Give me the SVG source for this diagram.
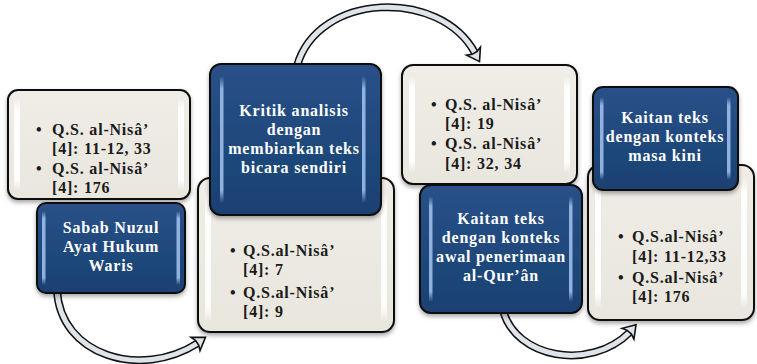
<svg xmlns="http://www.w3.org/2000/svg" width="757" height="364" viewBox="0 0 757 364">
  <defs>
    <style>
      .beige { fill: url(#beigeFill); stroke: #111; stroke-width: 2; }
      .blue { fill: url(#blueFill); stroke: #111; stroke-width: 2; }
      .hlBeige { fill: url(#beigeBar); }
      .hlBlue { fill: url(#blueBar); }
      .txt { font-family: "Liberation Serif", "Times New Roman", serif; font-weight: bold; font-size: 16px; letter-spacing: 0.8px; }
      .dark { fill: #1a1a1a; }
      .light { fill: #ffffff; text-anchor: middle; }
      .arrowOuter { fill: none; stroke: #111; stroke-width: 8; stroke-linecap: butt; }
      .arrowInner { fill: none; stroke: #dfe3ea; stroke-width: 5; stroke-linecap: butt; }
      .head { fill: #dfe3ea; stroke: #111; stroke-width: 1.6; stroke-linejoin: miter; }
    </style>
    <linearGradient id="beigeFill" x1="0" y1="0" x2="0" y2="1">
      <stop offset="0" stop-color="#efede6"/>
      <stop offset="1" stop-color="#e8e6dd"/>
    </linearGradient>
    <linearGradient id="blueFill" x1="0" y1="0" x2="0" y2="1">
      <stop offset="0" stop-color="#2a5189"/>
      <stop offset="0.5" stop-color="#20497d"/>
      <stop offset="1" stop-color="#1c4172"/>
    </linearGradient>
    <linearGradient id="beigeBar" x1="0" y1="0" x2="0" y2="1">
      <stop offset="0" stop-color="#ffffff" stop-opacity="0"/>
      <stop offset="0.12" stop-color="#ffffff" stop-opacity="0.95"/>
      <stop offset="0.88" stop-color="#ffffff" stop-opacity="0.95"/>
      <stop offset="1" stop-color="#ffffff" stop-opacity="0"/>
    </linearGradient>
    <linearGradient id="blueBar" x1="0" y1="0" x2="0" y2="1">
      <stop offset="0" stop-color="#9dbdea" stop-opacity="0"/>
      <stop offset="0.1" stop-color="#9dbdea" stop-opacity="0.9"/>
      <stop offset="0.9" stop-color="#9dbdea" stop-opacity="0.9"/>
      <stop offset="1" stop-color="#9dbdea" stop-opacity="0"/>
    </linearGradient>
    <filter id="shadow" x="-10%" y="-10%" width="120%" height="130%">
      <feDropShadow dx="0" dy="2.5" stdDeviation="2" flood-color="#000" flood-opacity="0.35"/>
    </filter>
    <path id="arrowHead" class="head" d="M3,0 L-9,-8 L-7,-2.8 L-7,2.8 L-9,8 Z"/>
  </defs>

  <!-- curved connectors -->
  <g id="connectors">
    <path class="arrowOuter" d="M57,290 C60,355 140,380 198,343"/>
    <path class="arrowInner" d="M57,290 C60,355 140,380 198,343"/>
    <use href="#arrowHead" transform="translate(203,339) rotate(-34)"/>

    <path class="arrowOuter" d="M297,66 C318,-8 440,-12 475,53"/>
    <path class="arrowInner" d="M297,66 C318,-8 440,-12 475,53"/>
    <use href="#arrowHead" transform="translate(478,59) rotate(60)"/>

    <path class="arrowOuter" d="M503,310 C515,358 590,372 630,332"/>
    <path class="arrowInner" d="M503,310 C515,358 590,372 630,332"/>
    <use href="#arrowHead" transform="translate(634,327) rotate(-48)"/>
  </g>

  <!-- step 1 -->
  <g id="refs1">
    <rect class="beige" x="8" y="90" width="182" height="109" rx="10" filter="url(#shadow)"/>
    <rect class="hlBeige" x="14" y="98" width="6" height="93" rx="3"/>
    <rect class="hlBeige" x="178" y="98" width="6" height="93" rx="3"/>
    <text class="txt dark" x="36" y="135">•</text>
    <text class="txt dark" x="52" y="135">Q.S. al-Nisâ’</text>
    <text class="txt dark" x="52" y="154">[4]: 11-12, 33</text>
    <text class="txt dark" x="36" y="174">•</text>
    <text class="txt dark" x="52" y="174">Q.S. al-Nisâ’</text>
    <text class="txt dark" x="52" y="193">[4]: 176</text>
  </g>
  <g id="sabab">
    <rect class="blue" x="37" y="203" width="148" height="90" rx="9" filter="url(#shadow)"/>
    <rect class="hlBlue" x="42" y="211" width="3.5" height="74" rx="1.5"/>
    <rect class="hlBlue" x="176.5" y="211" width="3.5" height="74" rx="1.5"/>
    <text class="txt light" x="111" y="233">Sabab Nuzul</text>
    <text class="txt light" x="111" y="252">Ayat Hukum</text>
    <text class="txt light" x="111" y="271">Waris</text>
  </g>

  <!-- step 2 -->
  <g id="refs2">
    <rect class="beige" x="198" y="178" width="196" height="154" rx="12" filter="url(#shadow)"/>
    <rect class="hlBeige" x="205" y="190" width="6" height="132" rx="3"/>
    <rect class="hlBeige" x="381" y="190" width="6" height="132" rx="3"/>
    <text class="txt dark" x="230" y="256">•</text>
    <text class="txt dark" x="243" y="256">Q.S.al-Nisâ’</text>
    <text class="txt dark" x="243" y="275">[4]: 7</text>
    <text class="txt dark" x="230" y="298">•</text>
    <text class="txt dark" x="243" y="298">Q.S.al-Nisâ’</text>
    <text class="txt dark" x="243" y="317">[4]: 9</text>
  </g>
  <g id="kritik">
    <rect class="blue" x="210" y="64" width="171" height="151" rx="11" filter="url(#shadow)"/>
    <rect class="hlBlue" x="220" y="76" width="3.5" height="127" rx="1.5"/>
    <rect class="hlBlue" x="362" y="76" width="3.5" height="127" rx="1.5"/>
    <text class="txt light" x="294" y="116">Kritik analisis</text>
    <text class="txt light" x="294" y="135">dengan</text>
    <text class="txt light" x="294" y="154">membiarkan teks</text>
    <text class="txt light" x="294" y="173">bicara sendiri</text>
  </g>

  <!-- step 3 -->
  <g id="refs3">
    <rect class="beige" x="402" y="65" width="175" height="119" rx="11" filter="url(#shadow)"/>
    <rect class="hlBeige" x="409" y="76" width="6" height="97" rx="3"/>
    <rect class="hlBeige" x="564" y="76" width="6" height="97" rx="3"/>
    <text class="txt dark" x="431" y="110">•</text>
    <text class="txt dark" x="445" y="110">Q.S. al-Nisâ’</text>
    <text class="txt dark" x="445" y="129">[4]: 19</text>
    <text class="txt dark" x="431" y="149">•</text>
    <text class="txt dark" x="445" y="149">Q.S. al-Nisâ’</text>
    <text class="txt dark" x="445" y="169">[4]: 32, 34</text>
  </g>
  <g id="awal">
    <rect class="blue" x="420" y="185" width="162" height="128" rx="11" filter="url(#shadow)"/>
    <rect class="hlBlue" x="429" y="196" width="3.5" height="106" rx="1.5"/>
    <rect class="hlBlue" x="569" y="196" width="3.5" height="106" rx="1.5"/>
    <text class="txt light" x="501" y="224">Kaitan teks</text>
    <text class="txt light" x="501" y="243">dengan konteks</text>
    <text class="txt light" x="501" y="262">awal penerimaan</text>
    <text class="txt light" x="501" y="281">al-Qur’ân</text>
  </g>

  <!-- step 4 -->
  <g id="refs4">
    <rect class="beige" x="588" y="165" width="166" height="155" rx="12" filter="url(#shadow)"/>
    <rect class="hlBeige" x="595" y="177" width="6" height="132" rx="3"/>
    <rect class="hlBeige" x="741" y="177" width="6" height="132" rx="3"/>
    <text class="txt dark" x="618" y="242">•</text>
    <text class="txt dark" x="632" y="242">Q.S.al-Nisâ’</text>
    <text class="txt dark" x="632" y="262">[4]: 11-12,33</text>
    <text class="txt dark" x="618" y="283">•</text>
    <text class="txt dark" x="632" y="283">Q.S.al-Nisâ’</text>
    <text class="txt dark" x="632" y="302">[4]: 176</text>
  </g>
  <g id="kini">
    <rect class="blue" x="593" y="87" width="145" height="103" rx="10" filter="url(#shadow)"/>
    <rect class="hlBlue" x="600" y="97" width="3.5" height="83" rx="1.5"/>
    <rect class="hlBlue" x="727" y="97" width="3.5" height="83" rx="1.5"/>
    <text class="txt light" x="665" y="123">Kaitan teks</text>
    <text class="txt light" x="665" y="142">dengan konteks</text>
    <text class="txt light" x="665" y="161">masa kini</text>
  </g>
</svg>
